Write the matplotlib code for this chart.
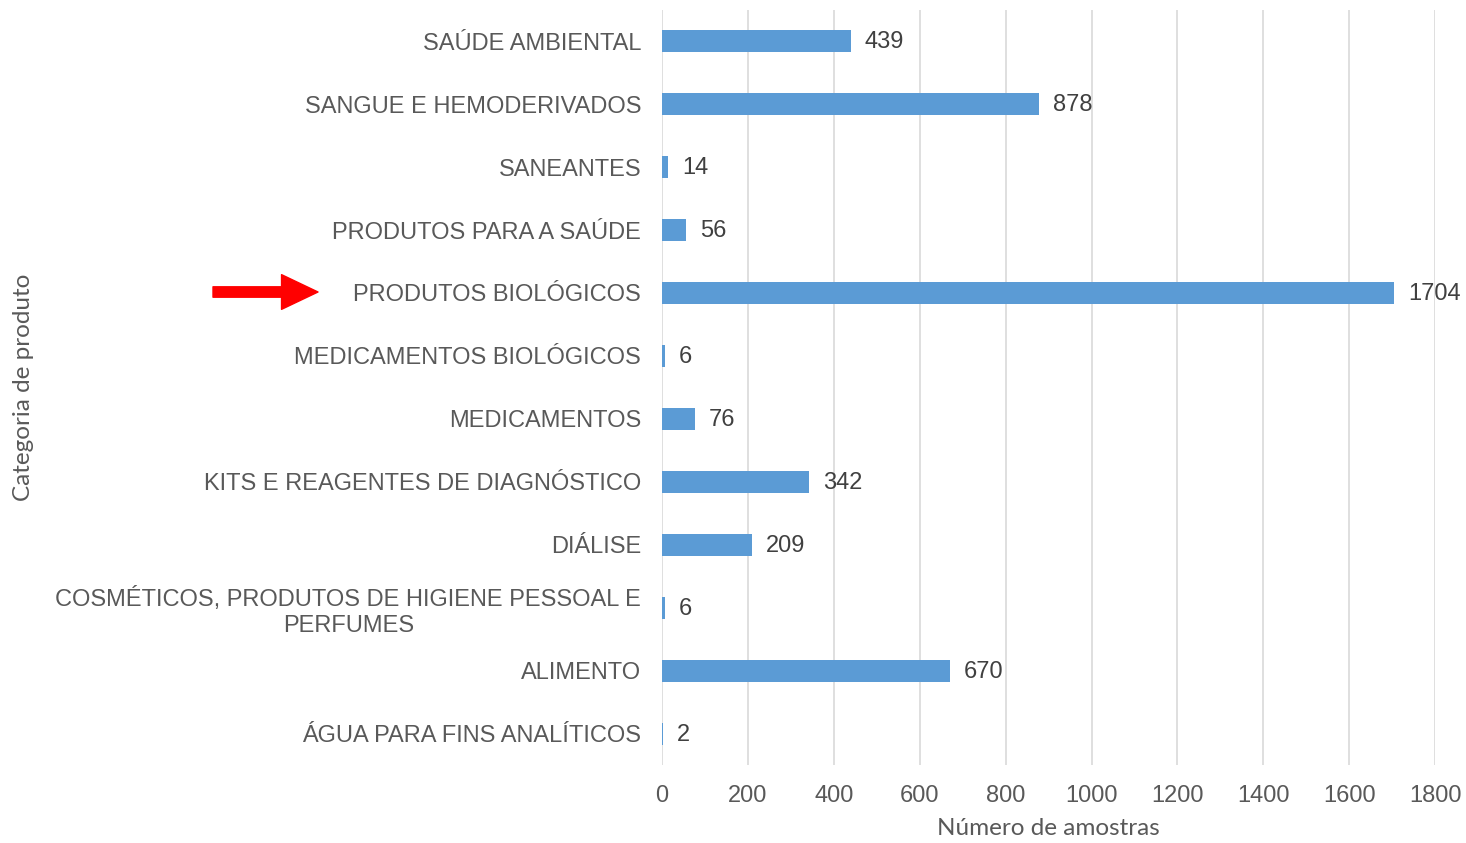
import matplotlib.pyplot as plt

# data (top to bottom as in the chart)
categorias = [
    "SAÚDE AMBIENTAL",
    "SANGUE E HEMODERIVADOS",
    "SANEANTES",
    "PRODUTOS PARA A SAÚDE",
    "PRODUTOS BIOLÓGICOS",
    "MEDICAMENTOS BIOLÓGICOS",
    "MEDICAMENTOS",
    "KITS E REAGENTES DE DIAGNÓSTICO",
    "DIÁLISE",
    "COSMÉTICOS, PRODUTOS DE HIGIENE PESSOAL E\nPERFUMES",
    "ALIMENTO",
    "ÁGUA PARA FINS ANALÍTICOS",
]
amostras = [439, 878, 14, 56, 1704, 6, 76, 342, 209, 6, 670, 2]
x_ticks = [0, 200, 400, 600, 800, 1000, 1200, 1400, 1600, 1800]

cor_barra = "#5B9BD5"
cor_texto = "#595959"
plt.rcParams["font.family"] = ["Liberation Sans", "DejaVu Sans"]
fonte_titulo = "Lato"

fig = plt.figure(figsize=(14.66, 8.43), dpi=100)
ax = fig.add_axes([0.4516, 0.092, 0.5274, 0.8967])

pos = list(range(len(categorias)))
ax.barh(pos, amostras, height=0.36, color=cor_barra, zorder=3)
ax.set_ylim(len(categorias) - 0.5, -0.5)
ax.set_xlim(0, 1800)
ax.set_xticks(x_ticks)
ax.set_xticklabels([str(t) for t in x_ticks])
ax.set_yticks(pos)
ax.set_yticklabels(categorias)
for lbl in ax.get_yticklabels():
    lbl.set_multialignment("center")
ax.tick_params(axis="both", length=0, labelsize=17, labelcolor=cor_texto)
ax.tick_params(axis="y", pad=15)
ax.tick_params(axis="x", pad=14)

ax.grid(axis="x", color="#D9D9D9", linewidth=1.2, zorder=0)
for s in ax.spines.values():
    s.set_visible(False)

for p, v in zip(pos, amostras):
    ax.annotate(str(v), (v, p), xytext=(10, -1), textcoords="offset points",
                va="center", ha="left", fontsize=17, color="#404040")

ax.set_xlabel("Número de amostras", fontsize=17.5, family=fonte_titulo, color=cor_texto, labelpad=8)
fig.text(0.016, 0.54, "Categoria de produto", rotation=90, va="center", ha="center",
         fontsize=17.5, family=fonte_titulo, color=cor_texto)

# red arrow pointing at PRODUTOS BIOLÓGICOS
ax.annotate("", xy=(318, 551), xytext=(213, 551),
            xycoords="figure pixels", textcoords="figure pixels",
            arrowprops=dict(arrowstyle="simple,head_length=1.05,head_width=1.0,tail_width=0.3",
                            color="#FF0000", mutation_scale=25, shrinkA=0, shrinkB=0))

fig.savefig("out.png", dpi=100)
